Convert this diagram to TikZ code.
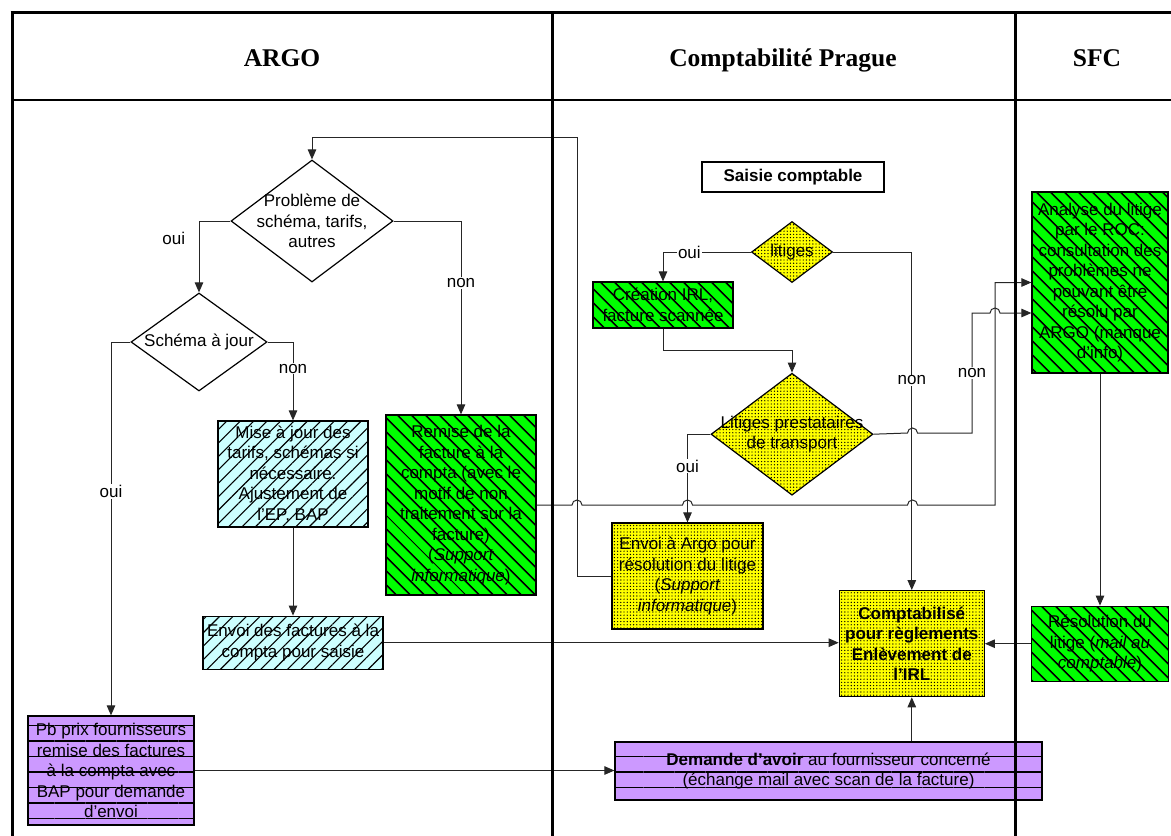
\documentclass[tikz,border=0pt]{standalone}
\usepackage{fontspec}
\setmainfont{Liberation Sans}
\newfontfamily\headfont{Liberation Serif}
\usepackage{tikz}
\usetikzlibrary{shapes,arrows.meta,positioning,calc,patterns.meta}
\definecolor{cyanbg}{RGB}{204,255,255}
\definecolor{greenbg}{RGB}{0,255,0}
\definecolor{yellowbg}{RGB}{255,255,0}
\definecolor{purplebg}{RGB}{204,153,255}
\newcommand{\bodyfont}{\fontsize{17}{20.5}\selectfont}

\begin{document}
\begin{tikzpicture}[x=1pt, y=-1pt, >={Triangle[length=10pt,width=8.5pt]}, font=\bodyfont,
        lane/.style={line width=3pt},
        head/.style={anchor=base, font=\headfont\bfseries\fontsize{25.5}{30}\selectfont},
        procbox/.style={rectangle, draw, line width=1.2pt, align=center, inner sep=1pt},
        decision/.style={diamond, draw, line width=1.2pt, inner sep=0pt},
        cyanfill/.style={fill=cyanbg, postaction={pattern={Lines[angle=45,distance=9.5pt,line width=1.1pt]}}},
        greenfill/.style={fill=greenbg, postaction={pattern={Lines[angle=-45,distance=10.5pt,line width=1.8pt]}}},
        yellowfill/.style={fill=yellowbg, postaction={pattern={Dots[distance=3.2pt,radius=0.7pt]}}},
        purplefill/.style={fill=purplebg, postaction={pattern={Lines[angle=0,distance=15.5pt,line width=1.1pt,yshift=2pt]}}},
        conn/.style={draw=black!85, line width=1pt, ->},
        lbl/.style={fill=white, inner sep=1pt}]

        \useasboundingbox (0,0) rectangle (1171,836);

        \node [head] (hargo) at (282,66) {ARGO};
        \node [head] (hcompta) at (783,66) {Comptabilité Prague};
        \node [head] (hsfc) at (1097,66) {SFC};

        \node [decision, fill=white, minimum width=162pt, minimum height=122pt,
            label={[align=center]center:{Problème de\\schéma, tarifs,\\autres}}] (prob) at (312,221) {};
        \node [decision, fill=white, minimum width=136pt, minimum height=98pt,
            label={center:Schéma à jour}] (schema) at (199,342) {};
        \node [procbox, cyanfill, minimum width=150pt, minimum height=106pt] (maj) at (293,474)
            {Mise à jour des\\tarifs, schémas si\\nécessaire.\\Ajustement de\\l’EP, BAP};
        \node [procbox, cyanfill, minimum width=180pt, minimum height=53pt, below=88pt of maj] (envf)
            {Envoi des factures à la\\compta pour saisie};
        \node [procbox, greenfill, minimum width=150pt, minimum height=180pt] (remise) at (461,505)
            {Remise de la\\facture à la\\compta (avec le\\motif de non\\traitement sur la\\facture)\\(\textit{Support}\\\textit{informatique})};
        \node [procbox, purplefill, minimum width=166pt, minimum height=109pt] (pbprix) at (111,770.5)
            {Pb prix fournisseurs\\remise des factures\\à la compta avec\\BAP pour demande\\d’envoi};

        \node [procbox, fill=white, minimum width=182pt, minimum height=30pt, font=\bodyfont\bfseries] (saisie) at (793,177) {Saisie comptable};
        \node [decision, yellowfill, minimum width=81pt, minimum height=61pt,
            label={center:litiges}] (litiges) at (792,252) {};
        \node [procbox, greenfill, minimum width=140pt, minimum height=46pt] (creation) at (663,305)
            {Création IRL,\\facture scannée};
        \node [decision, yellowfill, minimum width=162pt, minimum height=122pt, below=89.5pt of litiges,
            label={[align=center]center:{Litiges prestataires\\de transport}}] (litprest) {};
        \node [procbox, yellowfill, minimum width=151pt, minimum height=106pt] (envarg) at (687.5,576)
            {Envoi à Argo pour\\résolution du litige\\(\textit{Support}\\\textit{informatique})};

        \node [procbox, greenfill, minimum width=136pt, minimum height=181pt] (analyse) at (1100,282.5)
            {Analyse du litige\\par le ROC:\\consultation des\\problèmes ne\\pouvant être\\résolu par\\ARGO (manque\\d’info)};
        \node [procbox, greenfill, minimum width=137pt, minimum height=75pt, below=232pt of analyse] (resol)
            {Résolution du\\litige (\textit{mail au}\\\textit{comptable})};
        \node [procbox, yellowfill, minimum width=145pt, minimum height=106pt, left=46pt of resol,
            font=\bodyfont\bfseries] (compta) {Comptabilisé\\pour règlements\\Enlèvement de\\l’IRL};
        \node [procbox, purplefill, minimum width=427pt, minimum height=58pt] (demande) at (828.5,771)
            {\textbf{Demande d’avoir} au fournisseur concerné\\(échange mail avec scan de la facture)};

        \draw [conn] (envarg.west) -| (577,137) -| (prob.north);
        \draw [conn] (prob.west) -| node [pos=0.62, left=10pt] {oui} (schema.north);
        \draw [conn] (prob.east) -| node [lbl, pos=0.66] {non} (remise.north);
        \draw [conn] (schema.west) -| node [lbl, pos=0.7] {oui} (pbprix.north);
        \draw [conn] (schema.east) -| node [lbl, pos=0.67] {non} (maj.north);
        \draw [conn] (maj) -- (envf);
        \draw [conn] (envf.east) -- (envf.east -| compta.west);
        \draw [conn] (pbprix.east) -- (pbprix.east -| demande.west);
        \draw [conn] (demande.north -| compta.south) -- (compta.south);
        \draw [conn] (resol) -- (compta);
        \draw [conn] (analyse) -- (resol);
        \draw [conn] (litiges.west) -| node [lbl, pos=0.35] {oui} (creation.north);
        \draw [conn] (litiges.east) -| node [lbl, pos=0.69] {non} (compta.north);
        \draw [conn] (creation.south) -- ++(0,22) -| (litprest.north);
        \draw [conn] (litprest.west) -| node [lbl, pos=0.68] {oui} (envarg.north);
        \draw [conn] (litprest.east) -- (907.5,433) arc [start angle=180, end angle=0, radius=5pt]
            -- (972,433) -- node [lbl] {non} (972,313) -- (990,313) arc [start angle=180, end angle=0, radius=5pt]
            -- (analyse.west |- 0,313);
        \draw [conn] (remise.east) -- (572,505) arc [start angle=180, end angle=0, radius=5pt]
            -- (682.5,505) arc [start angle=180, end angle=0, radius=5pt]
            -- (907.5,505) arc [start angle=180, end angle=0, radius=5pt]
            -- (995,505) |- (analyse.west);

        \draw [lane] (10.5,12) -- (1171,12);
        \draw [lane] (12,12) -- (12,836);
        \draw [line width=2.5pt] (12,100) -- (1171,100);
        \draw [lane] (552,12) -- (552,836);
        \draw [lane] (1015,12) -- (1015,836);
    \end{tikzpicture}
\end{document}
